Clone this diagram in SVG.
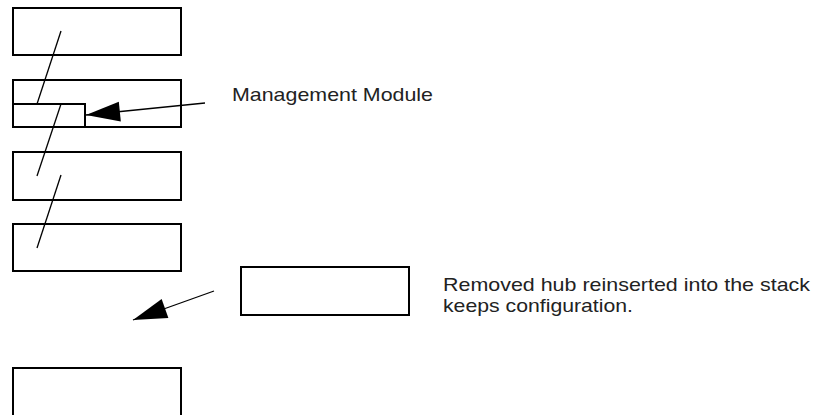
<svg xmlns="http://www.w3.org/2000/svg" width="819" height="415" viewBox="0 0 819 415">
  <style>
    .box { fill: #ffffff; stroke: #000000; stroke-width: 2; }
    .link { fill: none; stroke: #000000; stroke-width: 1.3; }
    .lbl { font-family: "Liberation Sans", Arial, sans-serif; font-size: 19px; fill: #222222; }
  </style>
  <defs>
    <marker id="ah" markerUnits="userSpaceOnUse" markerWidth="35" markerHeight="21" refX="34" refY="10" orient="auto" overflow="visible">
      <path d="M34,10 L0,0 L0,20 Z" fill="#000000"/>
    </marker>
  </defs>
  <rect width="819" height="415" fill="#ffffff"/>

  <g id="hub1"><rect class="box" x="13" y="8" width="168" height="47"/></g>
  <g id="hub2"><rect class="box" x="13" y="80" width="168" height="47"/></g>
  <g id="mgmt-module"><rect class="box" x="13" y="104" width="72" height="23"/></g>
  <g id="hub3"><rect class="box" x="13" y="152" width="168" height="48"/></g>
  <g id="hub4"><rect class="box" x="13" y="224" width="168" height="47"/></g>
  <g id="removed-hub"><rect class="box" x="241" y="267" width="168" height="48"/></g>
  <g id="hub5"><rect class="box" x="13" y="368" width="168" height="52"/></g>

  <g id="connectors">
    <line class="link" x1="61" y1="31" x2="37" y2="104"/>
    <line class="link" x1="61" y1="104" x2="37" y2="176"/>
    <line class="link" x1="61" y1="175" x2="37" y2="248"/>
    <line class="link" x1="205" y1="103" x2="86" y2="115" marker-end="url(#ah)"/>
    <line class="link" x1="214" y1="291" x2="133" y2="320" marker-end="url(#ah)"/>
  </g>

  <g id="labels">
    <text class="lbl" x="232" y="101" textLength="201" lengthAdjust="spacingAndGlyphs">Management Module</text>
    <text class="lbl" x="443" y="291" textLength="367" lengthAdjust="spacingAndGlyphs">Removed hub reinserted into the stack</text>
    <text class="lbl" x="443" y="312" textLength="190" lengthAdjust="spacingAndGlyphs">keeps configuration.</text>
  </g>
</svg>
